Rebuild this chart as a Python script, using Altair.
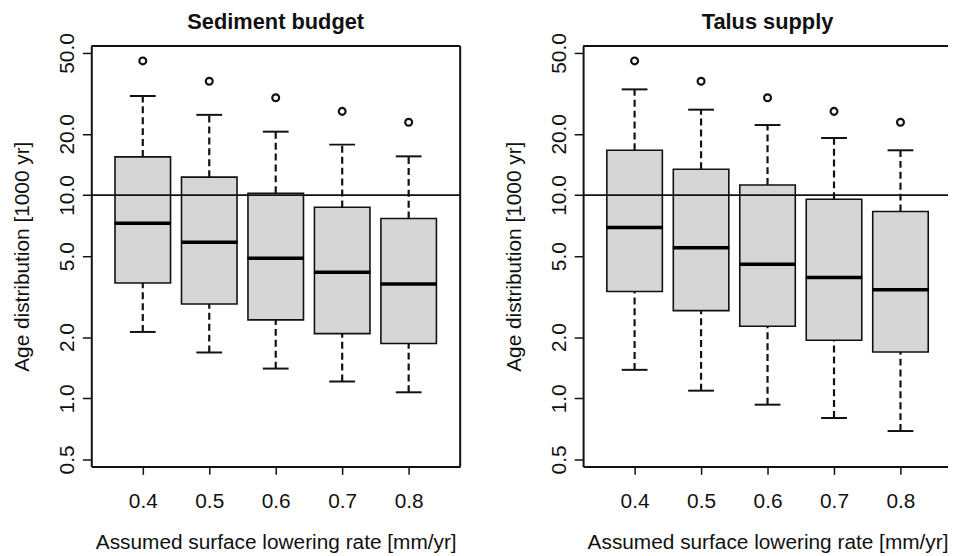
import altair as alt
import pandas as pd

# ---------------- data ----------------
rates = [0.4, 0.5, 0.6, 0.7, 0.8]

sed_low = [2.12, 1.68, 1.40, 1.21, 1.07]
sed_q1 = [3.69, 2.91, 2.43, 2.08, 1.86]
sed_med = [7.27, 5.86, 4.88, 4.17, 3.65]
sed_q3 = [15.4, 12.25, 10.2, 8.70, 7.66]
sed_high = [30.7, 24.8, 20.5, 17.7, 15.5]
sed_out = [45.7, 36.3, 30.1, 25.8, 22.8]

tal_low = [1.38, 1.09, 0.93, 0.80, 0.69]
tal_q1 = [3.35, 2.70, 2.26, 1.93, 1.69]
tal_med = [6.93, 5.50, 4.57, 3.93, 3.42]
tal_q3 = [16.6, 13.4, 11.2, 9.53, 8.30]
tal_high = [33.1, 26.3, 22.1, 19.1, 16.6]
tal_out = [45.7, 36.3, 30.1, 25.8, 22.8]

y_ticks = [0.5, 1, 2, 5, 10, 20, 50]
ref_line = [10]

panel_titles = ["Sediment budget", "Talus supply"]
x_title = "Assumed surface lowering rate [mm/yr]"
y_title = "Age distribution [1000 yr]"

FONT = "Liberation Sans"
INK = "#111111"
W, H = 372, 424


def make_panel(title, low, q1, med, q3, high, out):
    df = pd.DataFrame({"rate": rates, "low": low, "q1": q1, "med": med,
                       "q3": q3, "high": high, "out": out})
    xscale = alt.Scale(domain=[0.33, 0.87], nice=False, zero=False)
    yscale = alt.Scale(type="log", domain=[0.462, 54.1], nice=False)
    x_axis = alt.Axis(values=rates, format=".1f", title=x_title, grid=False,
                      tickSize=8, tickWidth=1.5, tickColor=INK,
                      domainColor=INK, domainWidth=2,
                      labelFontSize=21, labelPadding=16, labelColor=INK,
                      labelFont=FONT, labelFlush=False, labelOverlap=False,
                      titleFontSize=21, titleFont=FONT, titleFontWeight="normal",
                      titlePadding=21, titleColor=INK)
    y_axis = alt.Axis(values=y_ticks, format=".1f", title=y_title, grid=False,
                      tickSize=9, tickWidth=1.5, tickColor=INK,
                      domainColor=INK, domainWidth=2,
                      labelAngle=270, labelAlign="center", labelBaseline="alphabetic",
                      labelFontSize=21, labelPadding=8.7, labelColor=INK,
                      labelFont=FONT, labelFlush=False, labelOverlap=False,
                      titleFontSize=21, titleFont=FONT, titleFontWeight="normal",
                      titlePadding=24.7, titleColor=INK)

    def X():
        return alt.X("rate:Q", scale=xscale, axis=x_axis)

    def Y(f):
        return alt.Y(f + ":Q", scale=yscale, axis=y_axis)

    base = alt.Chart(df)
    wh_up = base.mark_rule(color=INK, strokeWidth=2.2, strokeDash=[7, 4]).encode(
        x=X(), y=Y("q3"), y2="high:Q")
    wh_lo = base.mark_rule(color=INK, strokeWidth=2.2, strokeDash=[7, 4]).encode(
        x=X(), y=Y("low"), y2="q1:Q")
    cap_hi = base.mark_tick(orient="horizontal", size=26, thickness=2, color=INK,
                            opacity=1).encode(x=X(), y=Y("high"))
    cap_lo = base.mark_tick(orient="horizontal", size=26, thickness=2, color=INK,
                            opacity=1).encode(x=X(), y=Y("low"))
    box = base.mark_bar(size=56, color="#d6d6d6", stroke=INK, strokeWidth=1.6,
                        opacity=1).encode(x=X(), y=Y("q1"), y2="q3:Q")
    med_t = base.mark_tick(orient="horizontal", size=57, thickness=3.5, color="#000000",
                           opacity=1).encode(x=X(), y=Y("med"))
    outl = base.mark_point(shape="circle", size=48, filled=False, stroke=INK,
                           strokeWidth=2.2, opacity=1).encode(x=X(), y=Y("out"))
    hline = alt.Chart(pd.DataFrame({"v": ref_line})).mark_rule(
        color=INK, strokeWidth=1.8).encode(y=Y("v"))
    one = pd.DataFrame({"a": [0]})
    top = alt.Chart(one).mark_rule(color=INK, strokeWidth=2).encode(
        x=alt.value(0), x2=alt.value(W), y=alt.value(0))
    right = alt.Chart(one).mark_rule(color=INK, strokeWidth=2).encode(
        x=alt.value(W), y=alt.value(0), y2=alt.value(H))

    return alt.layer(wh_up, wh_lo, cap_hi, cap_lo, box, med_t, outl, hline, top, right).properties(
        width=W, height=H,
        title=alt.TitleParams(title, fontSize=22, fontWeight="bold", font=FONT,
                              anchor="middle", frame="group", baseline="alphabetic",
                              offset=-18.7, color=INK))


left = make_panel(panel_titles[0], sed_low, sed_q1, sed_med, sed_q3, sed_high, sed_out)
rightp = make_panel(panel_titles[1], tal_low, tal_q1, tal_med, tal_q3, tal_high, tal_out)

chart = alt.hconcat(left, rightp, spacing=124, bounds="flush").configure_view(
    stroke=None).configure(font=FONT)

try:
    c2 = chart.properties(padding={"left": 3, "top": 0, "right": -6, "bottom": 0},
                          autosize=alt.AutoSizeParams(type="pad"))
    c2.to_dict()
    chart = c2
except Exception:
    chart = chart.properties(padding={"left": 3, "top": 0, "right": 0, "bottom": 0},
                             autosize=alt.AutoSizeParams(type="pad"))

chart.save("out.html", embed_options={"renderer": "svg", "actions": False})
